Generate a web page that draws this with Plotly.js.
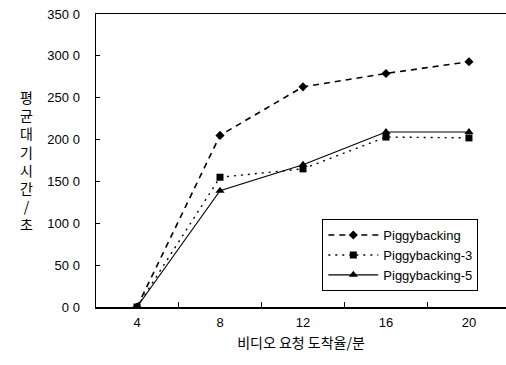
<!DOCTYPE html>
<html>
<head>
<meta charset="utf-8">
<script src="https://cdn.plot.ly/plotly-3.0.1.min.js"></script>
<style>html,body{margin:0;padding:0;background:#fff;}#chart{width:506px;height:365px;}</style>
</head>
<body>
<div id="chart"></div>
<script>
const categories = ["4", "8", "12", "16", "20"];
const piggybacking = [0, 205, 263, 279, 293];
const piggybacking3 = [0, 155, 165, 203, 202];
const piggybacking5 = [0, 139, 170, 209, 209];
const seriesNames = ["Piggybacking", "Piggybacking-3", "Piggybacking-5"];
const yTicks = [0, 50, 100, 150, 200, 250, 300, 350];
const xTitle = "비디오 요청 도착율/분";
const yTitle = "평균대기시간/초";

const latin = "Liberation Sans, Arial, sans-serif";
const kr = "Noto Sans CJK KR, sans-serif";

const traces = [
  {x: categories, y: piggybacking, name: seriesNames[0], type: "scatter", mode: "lines+markers",
   line: {color: "#000", width: 1.6, dash: "6px,5px"}, marker: {symbol: "diamond", size: 7, color: "#000"}},
  {x: categories, y: piggybacking3, name: seriesNames[1], type: "scatter", mode: "lines+markers",
   line: {color: "#000", width: 1.4, dash: "2px,5px"}, marker: {symbol: "square", size: 7, color: "#000"}},
  {x: categories, y: piggybacking5, name: seriesNames[2], type: "scatter", mode: "lines+markers",
   line: {color: "#000", width: 1.1}, marker: {symbol: "triangle-up", size: 8, color: "#000"}}
];

const layout = {
  width: 506, height: 365,
  margin: {l: 96, r: 0, t: 14, b: 58},
  paper_bgcolor: "#fff", plot_bgcolor: "#fff",
  separators: " ,",
  showlegend: true,
  legend: {x: 0.552, y: 0.30, xanchor: "left", yanchor: "top",
    bordercolor: "#000", borderwidth: 1, bgcolor: "#fff",
    font: {family: latin, size: 13, color: "#000"}, itemwidth: 50},
  xaxis: {type: "category", range: [-0.494, 4.446], tickson: "boundaries",
    ticks: "inside", ticklen: 5, tickcolor: "#000",
    showline: true, linecolor: "#000", linewidth: 1.5, mirror: true,
    showgrid: false, zeroline: false, ticklabelstandoff: 3,
    tickfont: {family: latin, size: 13, color: "#000"},
    title: {text: xTitle, font: {family: kr, size: 14, color: "#000"}, standoff: 9}},
  yaxis: {range: [0, 350], tickvals: yTicks, tickformat: ".1f",
    ticks: "inside", ticklen: 4, tickcolor: "#000",
    showline: true, linecolor: "#000", linewidth: 1.5,
    showgrid: false, zeroline: false, ticklabelstandoff: 12,
    tickfont: {family: latin, size: 13, color: "#000"}},
  annotations: [{
    text: yTitle.split("").join("<br>"), xref: "paper", yref: "paper",
    x: -0.17, y: 0.5, xanchor: "center", yanchor: "middle", showarrow: false,
    font: {family: kr, size: 14, color: "#000"}, align: "center"
  }]
};

Plotly.newPlot("chart", traces, layout, {staticPlot: true, displayModeBar: false});
</script>
</body>
</html>
